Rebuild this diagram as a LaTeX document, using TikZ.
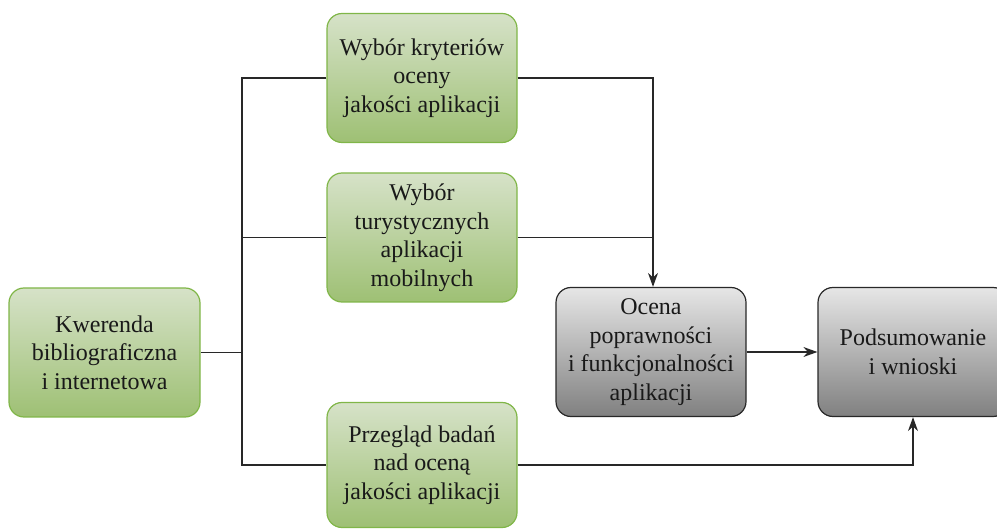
\documentclass[tikz,border=0pt]{standalone}
\usepackage{fontspec}
\setmainfont{Liberation Serif}
\newfontfamily\tnr{Liberation Serif}
\usetikzlibrary{arrows.meta}
\definecolor{gtop}{RGB}{214,226,200}
\definecolor{gbot}{RGB}{158,192,116}
\definecolor{gdraw}{RGB}{128,182,72}
\definecolor{stop}{RGB}{230,230,230}
\definecolor{sbot}{RGB}{128,128,128}
\definecolor{sdraw}{RGB}{40,40,40}
\definecolor{txt}{RGB}{25,25,25}
\begin{document}
\begin{tikzpicture}[x=1pt,y=-1pt,
  box/.style={rounded corners=15pt, line width=1.2pt, minimum width=190pt, minimum height=129pt,
    align=center, inner sep=2pt, text=txt, font=\tnr\fontsize{24}{28.5}\selectfont},
  greenbox/.style={box, draw=gdraw, top color=gtop, bottom color=gbot},
  graybox/.style={box, draw=sdraw, top color=stop, bottom color=sbot},
  conn/.style={draw=sdraw, line width=1.3pt},
  arr/.style={conn, -{Stealth[length=14pt,width=10pt]}}]
\useasboundingbox (0,0) rectangle (997,529);
\node[greenbox, minimum width=191pt] (K) at (104.5,352.5) {Kwerenda\\bibliograficzna\\i internetowa};
\node[greenbox] (A) at (422,78) {Wybór kryteriów\\oceny\\jakości aplikacji};
\node[greenbox] (B) at (422,237.5) {Wybór\\turystycznych\\aplikacji\\mobilnych};
\node[greenbox, minimum height=125pt] (C) at (422,465) {Przegląd badań\\nad oceną\\jakości aplikacji};
\node[graybox] (O) at (651,352) {Ocena\\poprawności\\i funkcjonalności\\aplikacji};
\node[graybox] (P) at (913,352) {Podsumowanie\\i wnioski};
\coordinate (j) at (242,352.5);
\coordinate (oin) at ([xshift=2pt]O.north);
\draw[conn] (K.east) -- (j);
\draw[conn] (A.west) -| (j) |- (C.west);
\draw[conn] (B.west) -- (B.west -| j);
\draw[arr] (A.east) -| (oin);
\draw[conn] (B.east) -- (B.east -| oin);
\draw[arr] (O.east) -- (P.west);
\draw[arr] (C.east) -| (P.south);
\end{tikzpicture}
\end{document}
